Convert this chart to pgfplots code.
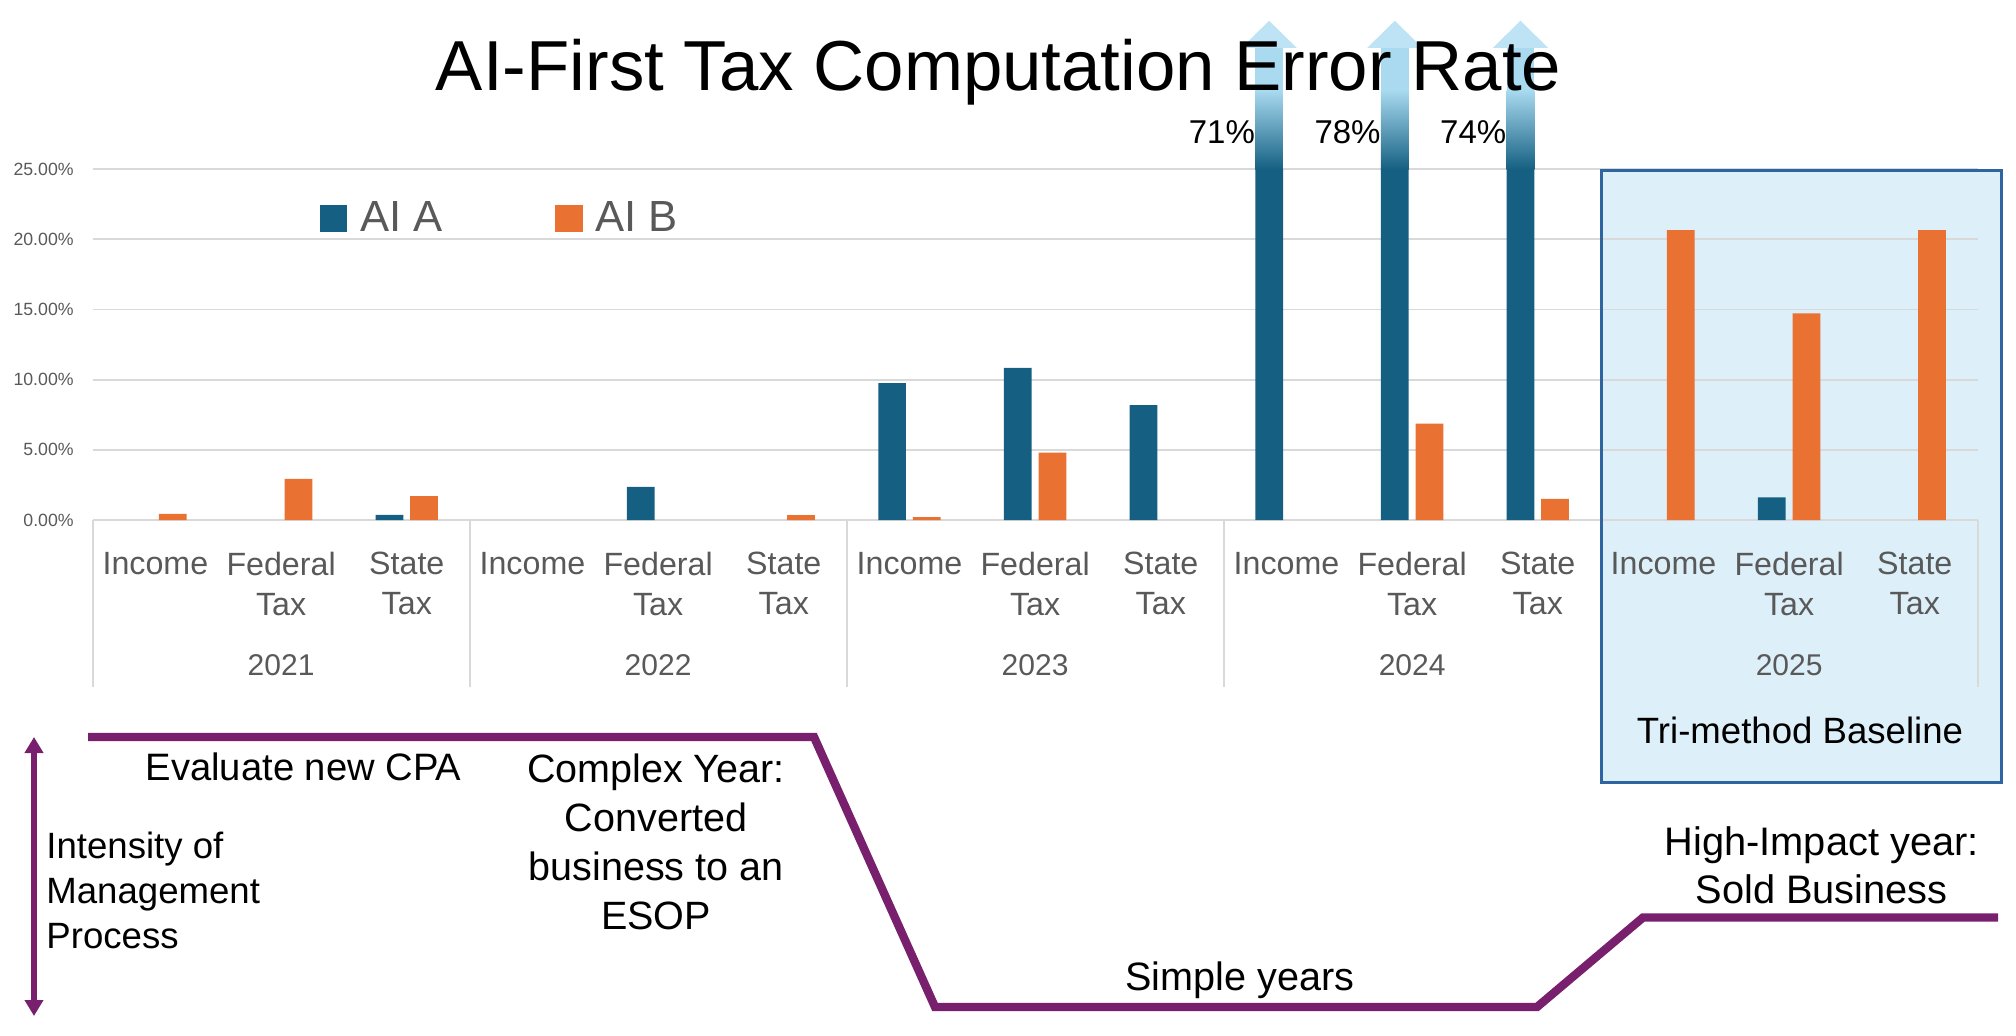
\documentclass[border=0pt]{standalone}
\usepackage{fontspec}
\setmainfont{Liberation Sans}
\usepackage{pgfplots}
\pgfplotsset{compat=1.18}
\usetikzlibrary{arrows.meta}

\definecolor{cA}{HTML}{156082}
\definecolor{cB}{HTML}{E97132}
\definecolor{procpurple}{HTML}{78206E}
\definecolor{gridgray}{HTML}{D9D9D9}
\definecolor{labgray}{HTML}{595959}
\definecolor{boxfill}{HTML}{DDEFF8}
\definecolor{boxline}{HTML}{2E64A0}
\definecolor{arrowlight}{HTML}{A9DAF0}
\definecolor{headlight}{HTML}{BEE3F4}

\begin{document}
\begin{tikzpicture}
% pixel frame: origin top left, 1px = 0.5pt
\begin{scope}[x=0.5pt,y=-0.5pt]
  \fill[boxfill] (1601,171) rectangle (2001,782);
\end{scope}

\begin{axis}[
  at={(46.3pt,-260pt)}, anchor=south west,
  scale only axis, width=942.5pt, height=175.4pt,
  xmin=-0.5, xmax=14.5, ymin=0, ymax=25,
  clip mode=individual,
  axis line style={draw=none},
  major tick length=0pt,
  ytick={0,5,...,25},
  ymajorgrids, grid style={gridgray, line width=0.9pt},
  xtick={0,...,14},
  xticklabels={Income,Federal\\Tax,State\\Tax,Income,Federal\\Tax,State\\Tax,Income,Federal\\Tax,State\\Tax,Income,Federal\\Tax,State\\Tax,Income,Federal\\Tax,State\\Tax},
  xticklabel style={font={\fontsize{16.1pt}{19.85pt}\selectfont}, text=labgray, align=center, anchor=north, inner sep=0pt, yshift=-15.85pt},
  /pgf/number format/assume math mode=true,
  yticklabel={\pgfmathprintnumber[fixed,fixed zerofill,precision=2]{\tick}\%},
  yticklabel style={font={\fontsize{8.85pt}{10pt}\selectfont}, text=labgray, anchor=east, inner sep=0pt, xshift=-9.3pt},
]

% AI A (zero values left out)
\addplot[ybar, bar width=13.85pt, bar shift=-8.65pt, fill=cA, draw=none] coordinates {
(2,0.36) (4,2.36) (6,9.76) (7,10.84) (8,8.19)
(9,71) (10,78) (11,74) (13,1.62)
};
% AI B (zero values left out)
\addplot[ybar, bar width=13.85pt, bar shift=8.65pt, fill=cB, draw=none] coordinates {
(0,0.43) (1,2.93) (2,1.71) (5,0.35) (6,0.2) (7,4.8)
(10,6.87) (11,1.5) (12,20.65) (13,14.73) (14,20.65)
};

% group separators below the axis
\pgfplotsinvokeforeach{-0.5,2.5,5.5,8.5,11.5,14.5}{
  \draw[gridgray, line width=0.9pt] (axis cs:#1,0) -- (axis cs:#1,-11.88);
}

% year labels
\node[anchor=base, text=labgray, font={\fontsize{15pt}{18pt}\selectfont}] at (axis cs:1,-11.09) {2021};
\node[anchor=base, text=labgray, font={\fontsize{15pt}{18pt}\selectfont}] at (axis cs:4,-11.09) {2022};
\node[anchor=base, text=labgray, font={\fontsize{15pt}{18pt}\selectfont}] at (axis cs:7,-11.09) {2023};
\node[anchor=base, text=labgray, font={\fontsize{15pt}{18pt}\selectfont}] at (axis cs:10,-11.09) {2024};
\node[anchor=base, text=labgray, font={\fontsize{15pt}{18pt}\selectfont}] at (axis cs:13,-11.09) {2025};

% off-scale bars of 2024: fading arrows
\shade[bottom color=cA, top color=arrowlight] (axis cs:8.7521,25) rectangle (axis cs:8.9725,30.64);
\fill[arrowlight] (axis cs:8.7521,30.6) rectangle (axis cs:8.9725,33.7);
\fill[headlight] (axis cs:8.6433,33.65) -- (axis cs:8.8623,35.58) -- (axis cs:9.0813,33.65) -- cycle;

\shade[bottom color=cA, top color=arrowlight] (axis cs:9.7521,25) rectangle (axis cs:9.9725,30.64);
\fill[arrowlight] (axis cs:9.7521,30.6) rectangle (axis cs:9.9725,33.7);
\fill[headlight] (axis cs:9.6433,33.65) -- (axis cs:9.8623,35.58) -- (axis cs:10.0813,33.65) -- cycle;

\shade[bottom color=cA, top color=arrowlight] (axis cs:10.7521,25) rectangle (axis cs:10.9725,30.64);
\fill[arrowlight] (axis cs:10.7521,30.6) rectangle (axis cs:10.9725,33.7);
\fill[headlight] (axis cs:10.6433,33.65) -- (axis cs:10.8623,35.58) -- (axis cs:11.0813,33.65) -- cycle;

\node[anchor=base east, inner sep=0pt, font={\fontsize{16.5pt}{19pt}\selectfont}] at (axis cs:8.7521,26.84) {71\%};
\node[anchor=base east, inner sep=0pt, font={\fontsize{16.5pt}{19pt}\selectfont}] at (axis cs:9.7521,26.84) {78\%};
\node[anchor=base east, inner sep=0pt, font={\fontsize{16.5pt}{19pt}\selectfont}] at (axis cs:10.7521,26.84) {74\%};
\end{axis}

\begin{scope}[x=0.5pt,y=-0.5pt]
  % box border
  \draw[boxline, line width=1.5pt] (1601,171) rectangle (2001,782);
  \node[anchor=base, inner sep=0pt, font={\fontsize{18.3pt}{22pt}\selectfont}] at (1800,743) {Tri-method Baseline};

  % legend
  \fill[cA] (320,205) rectangle (346.7,231.7);
  \node[anchor=base west, inner sep=0pt, text=labgray, font={\fontsize{21.8pt}{26pt}\selectfont}] at (360,232) {AI A};
  \fill[cB] (555,205) rectangle (582.7,231.7);
  \node[anchor=base west, inner sep=0pt, text=labgray, font={\fontsize{21.8pt}{26pt}\selectfont}] at (595,232) {AI B};

  % management process line
  \draw[procpurple, line width=4.2pt, line join=miter]
    (88,737) -- (814,737) -- (935,1007) -- (1537,1007) -- (1643,917.5) -- (1998,917.5);
  \draw[procpurple, line width=2.85pt, {Triangle[length=8pt,width=9pt]}-{Triangle[length=8pt,width=9pt]}]
    (34,737) -- (34,1016);

  \node[anchor=base, inner sep=0pt, font={\fontsize{19.1pt}{23pt}\selectfont}] at (303.5,780.5) {Evaluate new CPA};
  \node[anchor=north, inner sep=0pt, align=center, font={\fontsize{19.75pt}{24.4pt}\selectfont}] at (656,753.7)
    {Complex Year:\\Converted\\business to an\\ESOP};
  \node[anchor=north west, inner sep=0pt, align=left, font={\fontsize{18.3pt}{22.5pt}\selectfont}] at (46,831.8)
    {Intensity of\\Management\\Process};
  \node[anchor=base, inner sep=0pt, font={\fontsize{19.8pt}{24pt}\selectfont}] at (1240,990) {Simple years};
  \node[anchor=north, inner sep=0pt, align=center, font={\fontsize{19.9pt}{24pt}\selectfont}] at (1821.7,826.4)
    {High-Impact year:\\Sold Business};

  % title, over the arrows
  \node[anchor=base, inner sep=0pt, font={\fontsize{35.4pt}{41pt}\selectfont}] at (998.6,91) {AI-First Tax Computation Error Rate};

  \pgfresetboundingbox
  \path[use as bounding box] (0,0) rectangle (2016,1036);
\end{scope}
\end{tikzpicture}
\end{document}
